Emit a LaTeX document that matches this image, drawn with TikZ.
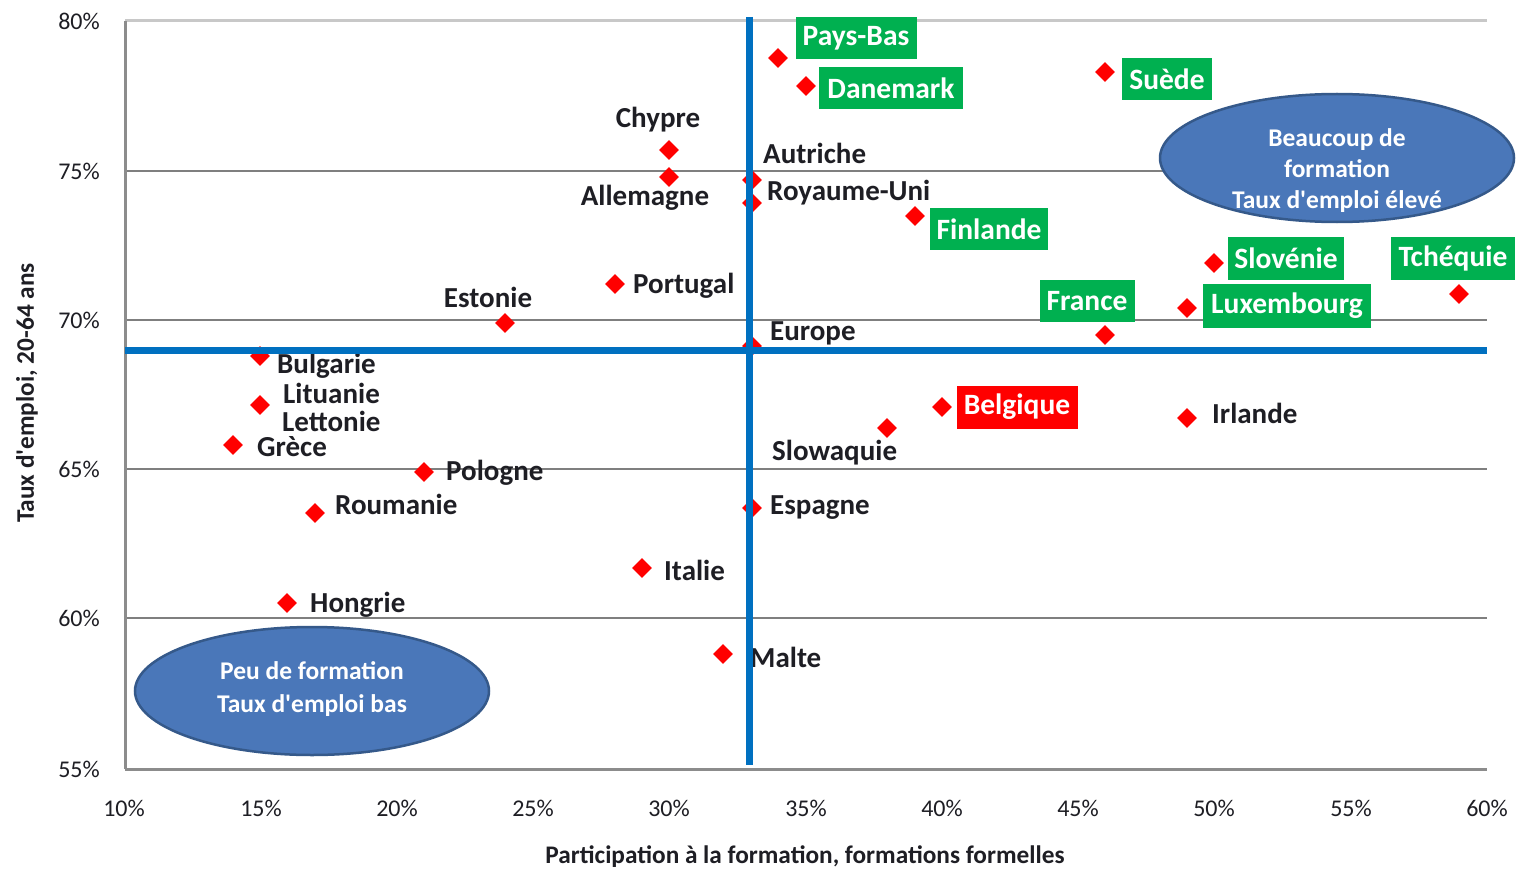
\documentclass[tikz,border=0pt]{standalone}
\usepackage{fontspec}
\setmainfont{Carlito}
\usetikzlibrary{shapes.geometric}
\definecolor{lineblue}{HTML}{0070C0}
\definecolor{ptred}{HTML}{FF0000}
\definecolor{boxgreen}{HTML}{00B050}
\definecolor{boxred}{HTML}{FF0000}
\definecolor{ellfill}{HTML}{4A77B9}
\definecolor{elldraw}{HTML}{35598A}
\definecolor{labelblack}{HTML}{1E1E24}
\definecolor{gridgray}{HTML}{7F7F7F}
\definecolor{axisgray}{HTML}{8C8C8C}
\definecolor{topgray}{HTML}{C8C8C8}
\tikzset{
  pt/.style={diamond, fill=ptred, inner sep=0pt, minimum size=20pt},
  lbl/.style={font=\fontsize{29}{31}\selectfont\bfseries, text=labelblack, inner sep=0pt},
  gbox/.style={fill=boxgreen, text=white, font=\fontsize{29.5}{31}\selectfont\bfseries, inner sep=0pt, minimum height=42pt},
  rbox/.style={fill=boxred, text=white, font=\fontsize{29.5}{31}\selectfont\bfseries, inner sep=0pt, minimum height=42pt},
  tick/.style={font=\fontsize{24}{26}\selectfont, text=labelblack, inner sep=0pt},
  axtitle/.style={font=\fontsize{25.3}{27}\selectfont\bfseries, text=labelblack, inner sep=0pt},
  grid/.style={draw=gridgray, line width=1.5pt},
  quad/.style={ellipse, fill=ellfill, draw=elldraw, line width=2.5pt, inner sep=0pt},
  quadtext/.style={text=white, align=center, inner sep=0pt, font=\fontsize{25.5}{31}\selectfont\bfseries},
  blueline/.style={draw=lineblue, line width=7pt},
}
\begin{document}
\begin{tikzpicture}[x=1pt,y=-1pt]
\useasboundingbox[fill=white] (0,0) rectangle (1517,869);

% grid
\coordinate (g80a) at (125,21); \coordinate (g80b) at (1487,21);
\coordinate (g75a) at (125,171); \coordinate (g75b) at (1487,171);
\coordinate (g70a) at (125,320); \coordinate (g70b) at (1487,320);
\coordinate (g65a) at (125,469); \coordinate (g65b) at (1487,469);
\coordinate (g60a) at (125,618); \coordinate (g60b) at (1487,618);
\coordinate (g55a) at (125,769); \coordinate (g55b) at (1487,769);
\draw[draw=topgray, line width=3pt] (g80a) -- (g80b);
\draw[grid] (g75a) -- (g75b);
\draw[grid] (g70a) -- (g70b);
\draw[grid] (g65a) -- (g65b);
\draw[grid] (g60a) -- (g60b);
\draw[draw=axisgray, line width=3pt] (g55a) -- (g55b);
\draw[draw=axisgray, line width=3pt] (g80a) -- (g55a);

% y ticks
\node[tick, anchor=east] (y80) at (100,21) {80\%};
\node[tick, anchor=east] (y75) at (100,171) {75\%};
\node[tick, anchor=east] (y70) at (100,320) {70\%};
\node[tick, anchor=east] (y65) at (100,469) {65\%};
\node[tick, anchor=east] (y60) at (100,618) {60\%};
\node[tick, anchor=east] (y55) at (100,769) {55\%};
% x ticks
\node[tick] (x10) at (124,808) {10\%};
\node[tick] (x15) at (261,808) {15\%};
\node[tick] (x20) at (397,808) {20\%};
\node[tick] (x25) at (533,808) {25\%};
\node[tick] (x30) at (669,808) {30\%};
\node[tick] (x35) at (806,808) {35\%};
\node[tick] (x40) at (942,808) {40\%};
\node[tick] (x45) at (1078,808) {45\%};
\node[tick] (x50) at (1214,808) {50\%};
\node[tick] (x55) at (1351,808) {55\%};
\node[tick] (x60) at (1487,808) {60\%};

\node[axtitle] (xtitle) at (805,857) {Participation à la formation, formations formelles};
\node[axtitle, rotate=90] (ytitle) at (27,393) {Taux d\textquotesingle emploi, 20-64 ans};

% points
\node[pt] (dPB) at (778,58) {};
\node[pt] (dDK) at (806,86) {};
\node[pt] (dSE) at (1105,72) {};
\node[pt] (dCY) at (669,150) {};
\node[pt] (dDE) at (669,177) {};
\node[pt] (dAT) at (752,180) {};
\node[pt] (dUK) at (752,203) {};
\node[pt] (dFI) at (915,216) {};
\node[pt] (dPT) at (615,284) {};
\node[pt] (dEE) at (505,323) {};
\node[pt] (dSI) at (1214,263) {};
\node[pt] (dLU) at (1187,308) {};
\node[pt] (dCZ) at (1459,294) {};
\node[pt] (dFR) at (1105,335) {};
\node[pt] (dEU) at (752,346) {};
\node[pt] (dBG) at (260,356) {};
\node[pt] (dLT) at (260,405) {};
\node[pt] (dGR) at (233,445) {};
\node[pt] (dBE) at (942,407) {};
\node[pt] (dIE) at (1187,418) {};
\node[pt] (dSK) at (887,428) {};
\node[pt] (dPL) at (424,472) {};
\node[pt] (dES) at (752,508) {};
\node[pt] (dRO) at (315,513) {};
\node[pt] (dIT) at (642,568) {};
\node[pt] (dHU) at (287,603) {};
\node[pt] (dMT) at (723,654) {};

% plain labels
\node[lbl] (lCY) at (658,120) {Chypre};
\node[lbl] (lDE) at (645,198) {Allemagne};
\node[lbl, anchor=west] (lAT) at (763,153) {Autriche};
\node[lbl, anchor=west] (lUK) at (767,193) {Royaume-Uni};
\node[lbl] (lEE) at (488,297) {Estonie};
\node[lbl, anchor=west] (lPT) at (633,286) {Portugal};
\node[lbl, anchor=west] (lEU) at (770,333) {Europe};
\node[lbl, anchor=west] (lBG) at (277,366) {Bulgarie};
\node[lbl, anchor=west] (lLT) at (283,393) {Lituanie};
\node[lbl, anchor=west] (lLV) at (282,421) {Lettonie};
\node[lbl, anchor=west] (lGR) at (257,447) {Grèce};
\node[lbl, anchor=west] (lPL) at (446,473) {Pologne};
\node[lbl, anchor=west] (lRO) at (335,504) {Roumanie};
\node[lbl, anchor=west] (lSK) at (772,453) {Slowaquie};
\node[lbl, anchor=west] (lES) at (770,508) {Espagne};
\node[lbl, anchor=west] (lIE) at (1212,413) {Irlande};
\node[lbl, anchor=west] (lIT) at (664,570) {Italie};
\node[lbl, anchor=west] (lHU) at (310,605) {Hongrie};
\node[lbl, anchor=west] (lMT) at (750,657) {Malte};

% blue quadrant lines
\coordinate (vtop) at (749,17); \coordinate (vbot) at (749,765);
\coordinate (hl) at (125,350); \coordinate (hr) at (1487,350);
\draw[blueline] (vtop) -- (vbot);
\draw[blueline] (hl) -- (hr);

% boxed labels
\node[gbox, minimum width=121pt] (bPB) at (856,38) {Pays-Bas};
\node[gbox, minimum width=144pt] (bDK) at (891,88) {Danemark};
\node[gbox, minimum width=90pt] (bSE) at (1167,79) {Suède};
\node[gbox, minimum width=118pt] (bFI) at (989,229) {Finlande};
\node[gbox, minimum width=116pt, minimum height=43pt] (bSI) at (1286,258) {Slovénie};
\node[gbox, minimum width=124pt, minimum height=43pt] (bCZ) at (1453,258) {Tchéquie};
\node[gbox, minimum width=95pt] (bFR) at (1087,301) {France};
\node[gbox, minimum width=168pt, minimum height=44pt] (bLU) at (1287,306) {Luxembourg};
\node[rbox, minimum width=121pt, minimum height=43pt] (bBE) at (1017,407) {Belgique};

% quadrant ellipses
\node[quad, minimum width=354pt, minimum height=128pt] (eHigh) at (1337,158) {};
\node[quadtext] (tHigh) at (1337,171) {Beaucoup de\\formation\\Taux d\textquotesingle emploi élevé};
\node[quad, minimum width=354pt, minimum height=128pt] (eLow) at (312,691) {};
\node[quadtext, font=\fontsize{25.5}{33}\selectfont\bfseries] (tLow) at (312,689) {Peu de formation\\Taux d\textquotesingle emploi bas};
\end{tikzpicture}
\end{document}
